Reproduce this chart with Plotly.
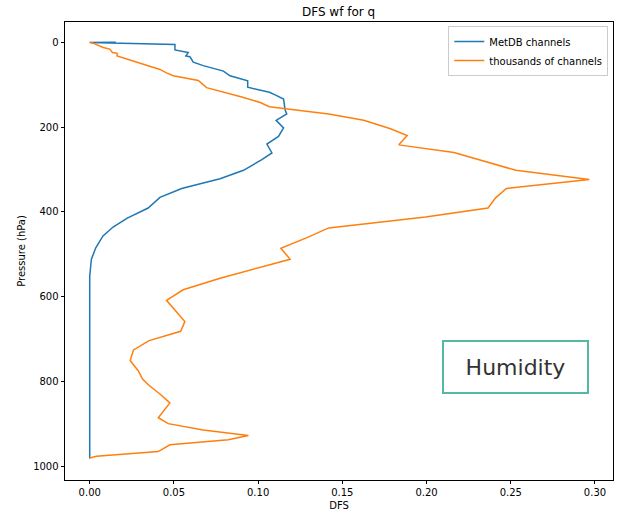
import plotly.graph_objects as go

# MetDB channels (blue)
metdb_p = [0, 0.5, 5, 18, 24, 32, 34, 47, 55, 65, 68, 79, 89, 91, 106, 118, 124, 134,
           159, 169, 184, 202, 222, 230, 240, 261, 277, 302, 322, 332, 345, 366, 391,
           415, 436, 457, 485, 512, 552, 982]
metdb_dfs = [0.0155, 0.0, 0.0506, 0.0506, 0.0585, 0.0571, 0.0595, 0.0615, 0.0674, 0.0774,
             0.0794, 0.0833, 0.0923, 0.0938, 0.0938, 0.1067, 0.1101, 0.1151, 0.116, 0.117,
             0.1107, 0.1151, 0.1121, 0.1091, 0.1052, 0.1082, 0.1022, 0.0913, 0.0774, 0.0674,
             0.0546, 0.0417, 0.0347, 0.0223, 0.0139, 0.0079, 0.0036, 0.001, 0.0, 0.0]

# thousands of channels (orange)
thou_p = [0, 2, 12, 16, 24, 26, 32, 46, 64, 72, 79, 90, 98, 107, 129, 142, 152, 169, 184,
          204, 220, 242, 260, 302, 324, 345, 367, 391, 412, 438, 461, 486, 512, 533, 557,
          584, 609, 659, 682, 704, 726, 751, 775, 795, 810, 830, 851, 886, 900, 915, 928,
          938, 950, 966, 977, 981]
thou_dfs = [0.0, 0.002, 0.008, 0.0119, 0.0135, 0.0163, 0.0163, 0.0278, 0.0417, 0.0456, 0.0496,
            0.0645, 0.067, 0.0694, 0.0903, 0.1012, 0.1067, 0.1419, 0.1627, 0.1786, 0.1885,
            0.1835, 0.2163, 0.253, 0.2966, 0.2474, 0.241, 0.2365, 0.1994, 0.1419, 0.129,
            0.1135, 0.119, 0.1002, 0.0774, 0.0555, 0.0456, 0.0565, 0.054, 0.0353, 0.026,
            0.024, 0.0288, 0.0314, 0.0353, 0.0417, 0.0476, 0.0407, 0.0466, 0.0674, 0.0942,
            0.0823, 0.0476, 0.0407, 0.004, 0.0]

x_ticks = [0.0, 0.05, 0.10, 0.15, 0.20, 0.25, 0.30]
x_tick_labels = ["0.00", "0.05", "0.10", "0.15", "0.20", "0.25", "0.30"]
y_ticks = [0, 200, 400, 600, 800, 1000]

FONT = "DejaVu Sans"

fig = go.Figure()
fig.add_trace(go.Scatter(x=metdb_dfs, y=metdb_p, mode="lines", name="MetDB channels",
                         line=dict(color="#1f77b4", width=1.5)))
fig.add_trace(go.Scatter(x=thou_dfs, y=thou_p, mode="lines", name="thousands of channels",
                         line=dict(color="#ff7f0e", width=1.5)))

axis_common = dict(showline=True, linecolor="#000000", linewidth=0.8, mirror=True,
                   ticks="outside", ticklen=3.5, tickwidth=0.8, tickcolor="#000000",
                   showgrid=False, zeroline=False, automargin=False,
                   tickfont=dict(family=FONT, size=10, color="#000000"))

fig.update_xaxes(range=[-0.01467, 0.3107], tickvals=x_ticks, ticktext=x_tick_labels,
                 title=dict(text="DFS", font=dict(family=FONT, size=10, color="#000000"), standoff=4),
                 **axis_common)
fig.update_yaxes(range=[1033, -48], tickvals=y_ticks,
                 title=dict(text="Pressure (hPa)", font=dict(family=FONT, size=10, color="#000000"), standoff=5),
                 **axis_common)

fig.add_annotation(x=0.253, y=766, xref="x", yref="y", text="Humidity", showarrow=False,
                   font=dict(family=FONT, size=22, color="#333333"),
                   bordercolor="#52b9a2", borderwidth=2, borderpad=2, bgcolor="white",
                   width=139, height=46)

fig.update_layout(
    width=619, height=514,
    margin=dict(l=65, r=6, t=22, b=34, autoexpand=False),
    paper_bgcolor="white", plot_bgcolor="white",
    title=dict(text="DFS wf for q", x=0.547, xanchor="center", y=1 - 12 / 514, yanchor="middle",
               font=dict(family=FONT, size=12, color="#000000")),
    legend=dict(x=0.9914, y=0.991, xanchor="right", yanchor="top", bgcolor="white",
                bordercolor="#cccccc", borderwidth=1, itemwidth=30,
                font=dict(family=FONT, size=10, color="#000000"), tracegroupgap=0),
    showlegend=True,
)

fig.write_html("out.html", config={"displayModeBar": False},
               post_script="document.body.style.margin='0';document.body.style.overflow='hidden';")
